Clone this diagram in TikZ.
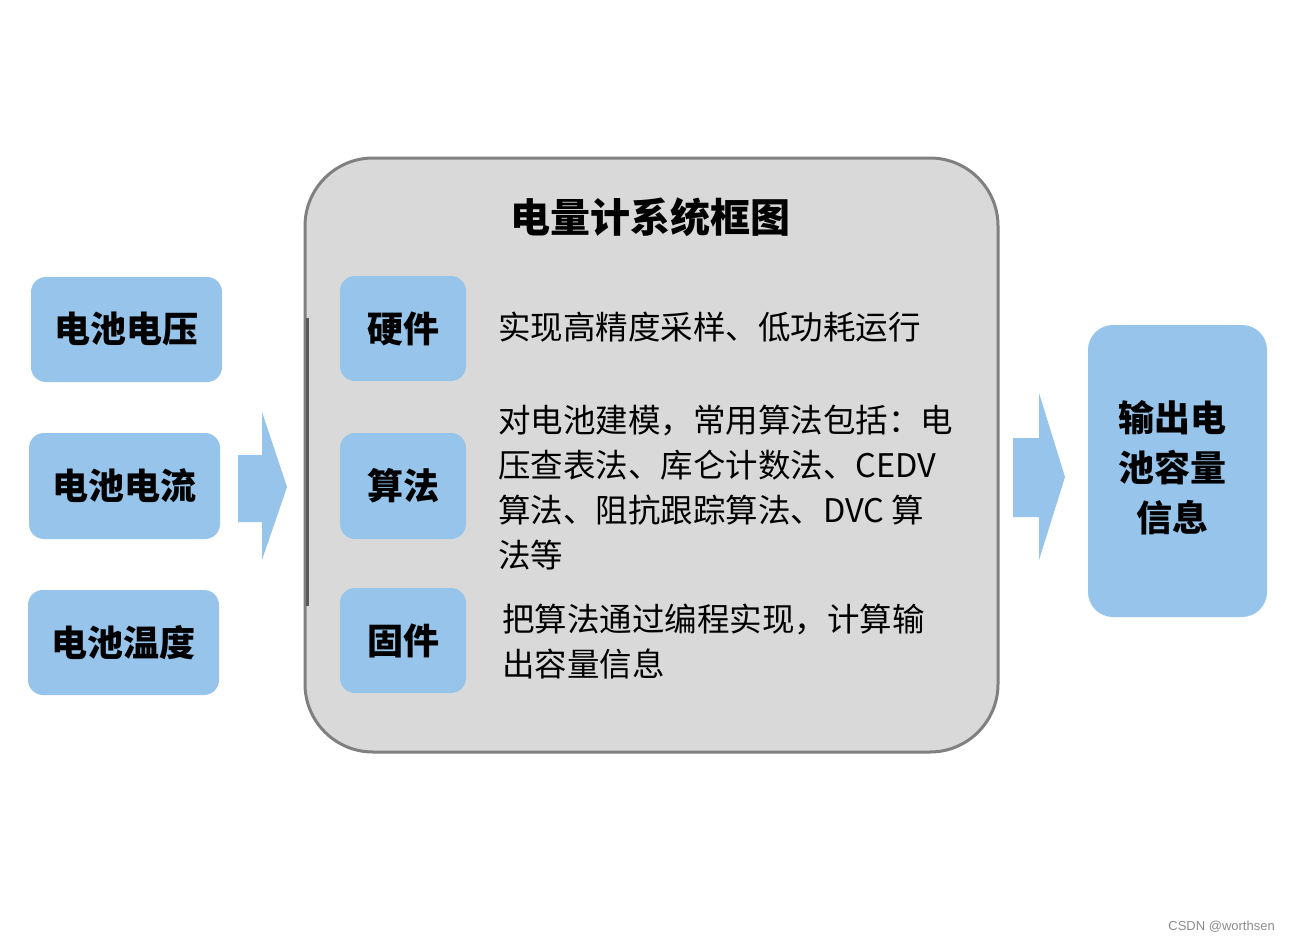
\documentclass[tikz,border=0pt]{standalone}
\usepackage{fontspec}
\setmainfont{Noto Sans CJK SC}
\newfontfamily\wmfont{Liberation Sans}
\definecolor{boxblue}{RGB}{150,196,234}
\definecolor{panelgray}{RGB}{217,217,217}
\definecolor{panelborder}{RGB}{128,128,128}
\begin{document}
\begin{tikzpicture}[x=1pt,y=-1pt,
  bluebox/.style={fill=boxblue,draw=none,rounded corners=15pt,inner sep=0pt,align=center,
    font=\fontsize{36}{50}\selectfont\bfseries},
  bodytext/.style={inner sep=0pt,anchor=west,align=left,font=\fontsize{32.5}{45}\selectfont},
  blockarrow/.style={fill=boxblue,draw=none}
]
\useasboundingbox (0,0) rectangle (1289,942);
\fill[white] (0,0) rectangle (1289,942);

% inputs
\node[bluebox,minimum width=191pt,minimum height=105pt] (volt) at (126.5,329.5) {电池电压};
\node[bluebox,minimum width=191pt,minimum height=106pt] (curr) at (124.5,486) {电池电流};
\node[bluebox,minimum width=191pt,minimum height=105pt] (temp) at (123.5,642.5) {电池温度};

% left block arrow
\fill[blockarrow] (238,455) -- (262,455) -- (262,412) -- (287,487) -- (262,560) -- (262,522) -- (238,522) -- cycle;

% main panel
\node[fill=panelgray,draw=panelborder,line width=3pt,rounded corners=68pt,
  minimum width=693pt,minimum height=594pt,inner sep=0pt] (panel) at (651.5,455) {};
\draw[panelborder!70!black,line width=2.5pt] (307.5,318) -- (307.5,606);
\node[inner sep=0pt,font=\fontsize{40}{48}\selectfont\bfseries] (title) at (650,217) {电量计系统框图};

\node[bluebox,minimum width=126pt,minimum height=105pt] (hw) at (403,328.5) {硬件};
\node[bluebox,minimum width=126pt,minimum height=106pt] (alg) at (403,486) {算法};
\node[bluebox,minimum width=126pt,minimum height=105pt] (fw) at (403,640.5) {固件};

\node[bodytext] (hwtext) at (498,327) {实现高精度采样、低功耗运行};
\node[bodytext] (algtext) at (498,488) {对电池建模，常用算法包括：电\\压查表法、库仑计数法、CEDV\\算法、阻抗跟踪算法、DVC 算\\法等};
\node[bodytext] (fwtext) at (502,642) {把算法通过编程实现，计算输\\出容量信息};

% right block arrow
\fill[blockarrow] (1013,438) -- (1039,438) -- (1039,393) -- (1065,477) -- (1039,560) -- (1039,517) -- (1013,517) -- cycle;

% output
\node[bluebox,rounded corners=25pt,minimum width=179pt,minimum height=292pt] (out) at (1177.5,471) {};
\node[inner sep=0pt,align=center,font=\fontsize{36}{50}\selectfont\bfseries] (outtext) at (1172,468) {输出电\\池容量\\信息};

% watermark
\node[inner sep=0pt,anchor=east,text=black!45,font=\wmfont\fontsize{13}{15}\selectfont] (wm) at (1275,927) {CSDN @worthsen};
\end{tikzpicture}
\end{document}
